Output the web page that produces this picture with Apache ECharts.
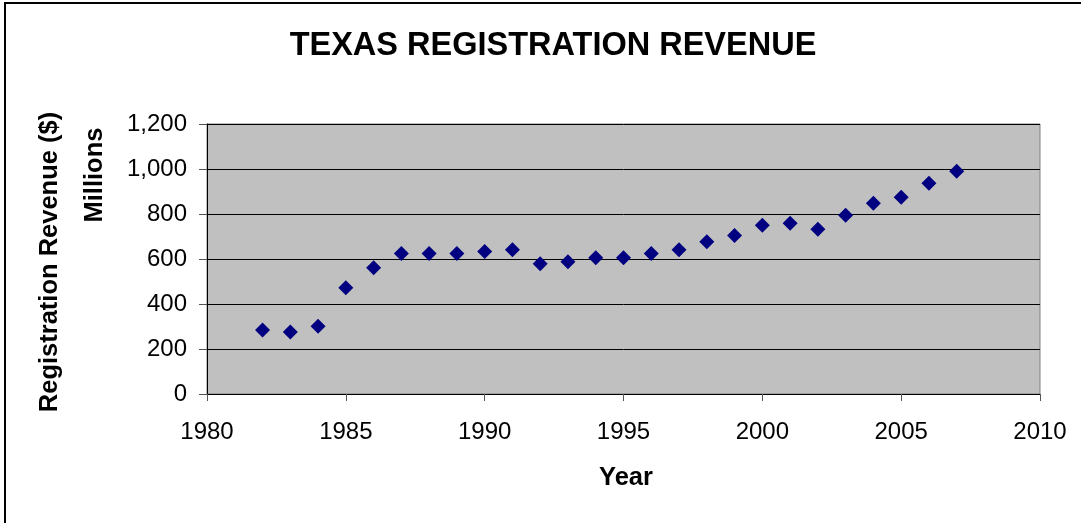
<!DOCTYPE html>
<html>
<head>
<meta charset="utf-8">
<script src="https://cdn.jsdelivr.net/npm/echarts@6/dist/echarts.min.js"></script>
<style>html,body{margin:0;padding:0;background:#fff}#c{width:1081px;height:523px}</style>
</head>
<body>
<div id="c"></div>
<script>
const years = [1982,1983,1984,1985,1986,1987,1988,1989,1990,1991,1992,1993,1994,1995,1996,1997,1998,1999,2000,2001,2002,2003,2004,2005,2006,2007];
const revenue = [285,276,301,472,561,624,624,624,633,641,579,588,606,606,624,641,677,704,750,759,732,794,848,875,937,990];
const titleText = 'TEXAS REGISTRATION REVENUE';
const xName = 'Year';
const yName1 = 'Registration Revenue ($)';
const yName2 = 'Millions';

const FONT = 'Liberation Sans, Arial, sans-serif';
const chart = echarts.init(document.getElementById('c'), null, {renderer:'canvas'});
chart.setOption({
  animation: false,
  backgroundColor: '#ffffff',
  title: {
    text: titleText, left: 548, top: 25, textAlign: 'center',
    textStyle: {fontFamily: FONT, fontSize: 32.5, fontWeight: 'bold', color: '#000'}
  },
  grid: {left: 207, right: 41, top: 124, bottom: 129, show: true, backgroundColor: '#c0c0c0', borderColor: '#808080', borderWidth: 1},
  xAxis: {
    type: 'value', min: 1980, max: 2010, interval: 5,
    axisLine: {show: true, onZero: false, lineStyle: {color: '#000', width: 1}},
    axisTick: {show: true, length: 7, lineStyle: {color: '#555'}},
    axisLabel: {fontFamily: FONT, fontSize: 24, color: '#000', margin: 26, formatter: v => String(v)},
    splitLine: {show: false}
  },
  yAxis: {
    type: 'value', min: 0, max: 1200, interval: 200,
    axisLine: {show: true, lineStyle: {color: '#000', width: 1}},
    axisTick: {show: true, length: 8, lineStyle: {color: '#555'}},
    axisLabel: {fontFamily: FONT, fontSize: 24, color: '#000', margin: 20,
      formatter: v => v.toLocaleString('en-US')},
    splitLine: {show: true, lineStyle: {color: '#000', width: 1}}
  },
  series: [{
    type: 'scatter',
    data: years.map((y, i) => [y, revenue[i]]),
    symbol: 'diamond', symbolSize: [15, 15],
    itemStyle: {color: '#000080', opacity: 1}
  }],
  graphic: [
    {type: 'rect', shape: {x: 5, y: 3, width: 1100, height: 540}, style: {fill: null, stroke: '#000', lineWidth: 2}, silent: true},
    {type: 'text', x: 50, y: 262, rotation: Math.PI/2, style: {text: yName1, fontFamily: FONT, fontSize: 25.5, fontWeight: 'bold', fill: '#000', textAlign: 'center', textVerticalAlign: 'middle'}},
    {type: 'text', x: 95, y: 175, rotation: Math.PI/2, style: {text: yName2, fontFamily: FONT, fontSize: 25.5, fontWeight: 'bold', fill: '#000', textAlign: 'center', textVerticalAlign: 'middle'}},
    {type: 'text', x: 626, y: 478, style: {text: xName, fontFamily: FONT, fontSize: 25.5, fontWeight: 'bold', fill: '#000', textAlign: 'center', textVerticalAlign: 'middle'}}
  ]
});
</script>
</body>
</html>
